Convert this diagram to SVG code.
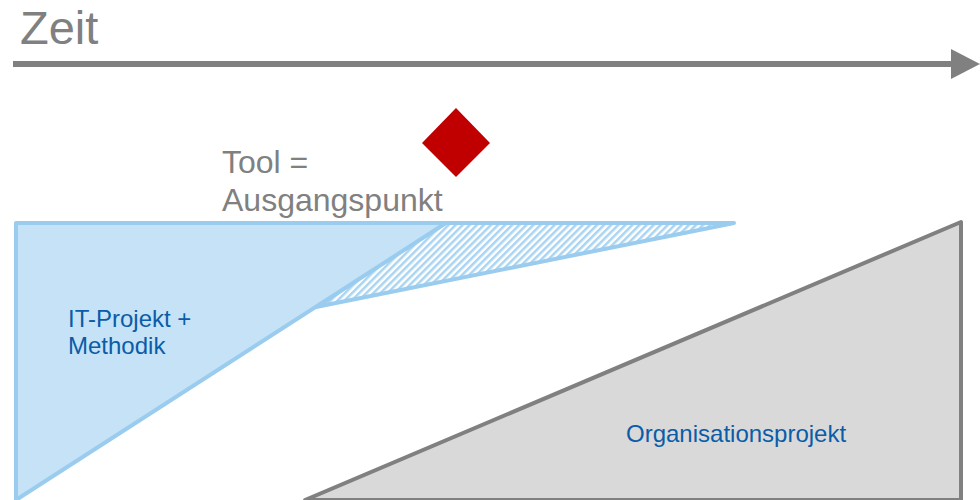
<svg xmlns="http://www.w3.org/2000/svg" width="980" height="500" viewBox="0 0 980 500">
<style>
  text { font-family: "Liberation Sans", Arial, sans-serif; }
  .gray { fill: #808080; }
  .blue { fill: #0B5CA8; font-size: 24px; }
  .big { font-size: 32px; }
</style>
<defs>
  <pattern id="hatch" patternUnits="userSpaceOnUse" width="5" height="5" patternTransform="rotate(45)">
    <rect width="5" height="5" fill="#ffffff"/>
    <rect x="0" y="0" width="2.5" height="5" fill="#A9D4F2"/>
  </pattern>
</defs>
<rect width="980" height="500" fill="#ffffff"/>

<g id="zeit">
  <text x="20" y="44" class="gray" font-size="47">Zeit</text>
</g>

<g id="connectors">
  <line x1="13" y1="64" x2="953" y2="64" stroke="#808080" stroke-width="6"/>
  <polygon points="951,49 980,64 951,79" fill="#808080"/>
</g>

<g id="org-projekt">
  <polygon points="305,500 961,222 961,500" fill="#D9D9D9" stroke="#808080" stroke-width="4" stroke-linejoin="round"/>
  <text x="626" y="442" class="blue">Organisationsprojekt</text>
</g>

<g id="hatched">
  <polygon points="316,307 444,223 734,223" fill="url(#hatch)" stroke="#99CCEE" stroke-width="4" stroke-linejoin="round"/>
</g>

<g id="it-projekt">
  <polygon points="16,223 446,223 16,500" fill="#C5E2F6" stroke="#99CCEE" stroke-width="4" stroke-linejoin="round"/>
  <text x="68" y="327" class="blue">IT-Projekt +</text>
  <text x="68" y="354" class="blue">Methodik</text>
</g>

<g id="tool">
  <polygon points="456,108 490,143 456,177 422,143" fill="#C00000"/>
  <text x="222" y="173" class="gray big">Tool =</text>
  <text x="222" y="211" class="gray big">Ausgangspunkt</text>
</g>
</svg>
